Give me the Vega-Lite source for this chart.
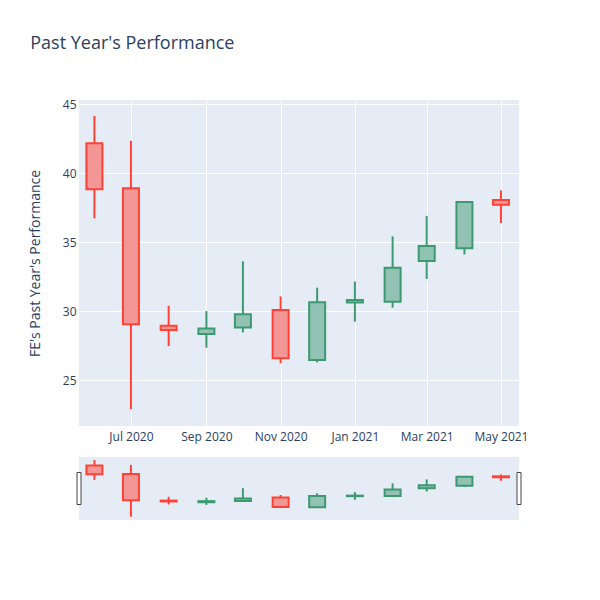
{
  "$schema": "https://vega.github.io/schema/vega-lite/v6.json",
  "padding": {"left": 28, "top": 35, "right": 0, "bottom": 0},
  "background": "white",
  "bounds": "flush",
  "spacing": 31,
  "config": {
    "view": {"stroke": null, "fill": "#E5ECF6"},
    "font": "Open Sans",
    "axis": {"labelFont": "Open Sans", "labelColor": "#2a3f5f", "labelFontSize": 12, "titleFont": "Open Sans", "titleColor": "#2a3f5f", "titleFontWeight": "normal"}
  },
  "datasets": {
    "candles": [
      {"date": "2020-06-01", "open": 42.15, "high": 44.13, "low": 36.72, "close": 38.82},
      {"date": "2020-07-01", "open": 38.89, "high": 42.34, "low": 22.88, "close": 29.04},
      {"date": "2020-08-01", "open": 28.94, "high": 30.38, "low": 27.46, "close": 28.62},
      {"date": "2020-09-01", "open": 28.33, "high": 30.0, "low": 27.34, "close": 28.74},
      {"date": "2020-10-01", "open": 28.8, "high": 33.6, "low": 28.45, "close": 29.76},
      {"date": "2020-11-01", "open": 30.07, "high": 31.06, "low": 26.21, "close": 26.57},
      {"date": "2020-12-01", "open": 26.45, "high": 31.69, "low": 26.28, "close": 30.63},
      {"date": "2021-01-01", "open": 30.61, "high": 32.13, "low": 29.23, "close": 30.8},
      {"date": "2021-02-01", "open": 30.68, "high": 35.41, "low": 30.24, "close": 33.14},
      {"date": "2021-03-01", "open": 33.62, "high": 36.88, "low": 32.32, "close": 34.71},
      {"date": "2021-04-01", "open": 34.54, "high": 37.95, "low": 34.1, "close": 37.9},
      {"date": "2021-05-01", "open": 38.04, "high": 38.74, "low": 36.38, "close": 37.7}
    ],
    "handles": [
      {"date": "2020-05-19T08:00:00Z"},
      {"date": "2021-05-15T20:00:00Z"}
    ]
  },
  "vconcat": [
    {
      "width": 440,
      "height": 326,
      "title": {"text": "Past Year's Performance", "anchor": "start", "dx": 2, "offset": 45, "fontSize": 18, "font": "Open Sans", "fontWeight": "normal", "color": "#2a3f5f"},
      "data": {"name": "candles"},
      "layer": [
        {
          "mark": {"type": "rule", "strokeWidth": 2},
          "encoding": {
            "x": {"field": "date", "type": "temporal",
              "scale": {"type": "utc", "padding": 0, "domain": [{"year": 2020, "month": 5, "date": 19, "hours": 8, "utc": true}, {"year": 2021, "month": 5, "date": 15, "hours": 20, "utc": true}]},
              "axis": {"title": null, "format": "%b %Y", "tickCount": {"interval": "month", "step": 2}, "grid": true, "gridColor": "white", "gridWidth": 1, "domain": false, "ticks": false, "labelPadding": 5}},
            "y": {"field": "low", "type": "quantitative",
              "scale": {"domain": [21.67, 45.29], "nice": false, "zero": false},
              "axis": {"title": "FE's Past Year's Performance", "titleFontSize": 14, "titlePadding": 20, "values": [25, 30, 35, 40, 45], "grid": true, "gridColor": "white", "gridWidth": 1, "domain": false, "ticks": false, "labelPadding": 3}},
            "y2": {"field": "high"},
            "stroke": {"condition": {"test": "datum.close >= datum.open", "value": "#3D9970"}, "value": "#FF4136"}
          }
        },
        {
          "mark": {"type": "bar", "width": 16, "strokeWidth": 2},
          "encoding": {
            "x": {"field": "date", "type": "temporal"},
            "y": {"field": "open", "type": "quantitative"},
            "y2": {"field": "close"},
            "stroke": {"condition": {"test": "datum.close >= datum.open", "value": "#3D9970"}, "value": "#FF4136"},
            "fill": {"condition": {"test": "datum.close >= datum.open", "value": "#91C2B3"}, "value": "#F29796"}
          }
        }
      ]
    },
    {
      "width": 440,
      "height": 63,
      "layer": [
        {
          "data": {"name": "candles"},
          "mark": {"type": "rule", "strokeWidth": 2},
          "encoding": {
            "x": {"field": "date", "type": "temporal",
              "scale": {"type": "utc", "padding": 0, "domain": [{"year": 2020, "month": 5, "date": 19, "hours": 8, "utc": true}, {"year": 2021, "month": 5, "date": 15, "hours": 20, "utc": true}]},
              "axis": null},
            "y": {"field": "low", "type": "quantitative",
              "scale": {"domain": [21.67, 45.29], "nice": false, "zero": false},
              "axis": null},
            "y2": {"field": "high"},
            "stroke": {"condition": {"test": "datum.close >= datum.open", "value": "#3D9970"}, "value": "#FF4136"}
          }
        },
        {
          "data": {"name": "candles"},
          "mark": {"type": "bar", "width": 16, "strokeWidth": 2},
          "encoding": {
            "x": {"field": "date", "type": "temporal"},
            "y": {"field": "open", "type": "quantitative"},
            "y2": {"field": "close"},
            "stroke": {"condition": {"test": "datum.close >= datum.open", "value": "#3D9970"}, "value": "#FF4136"},
            "fill": {"condition": {"test": "datum.close >= datum.open", "value": "#91C2B3"}, "value": "#F29796"}
          }
        },
        {
          "data": {"name": "handles"},
          "mark": {"type": "tick", "orient": "vertical", "thickness": 4, "size": 32, "fill": "white", "stroke": "#444", "strokeWidth": 1, "opacity": 1},
          "encoding": {
            "x": {"field": "date", "type": "temporal"}
          }
        }
      ]
    }
  ]
}
